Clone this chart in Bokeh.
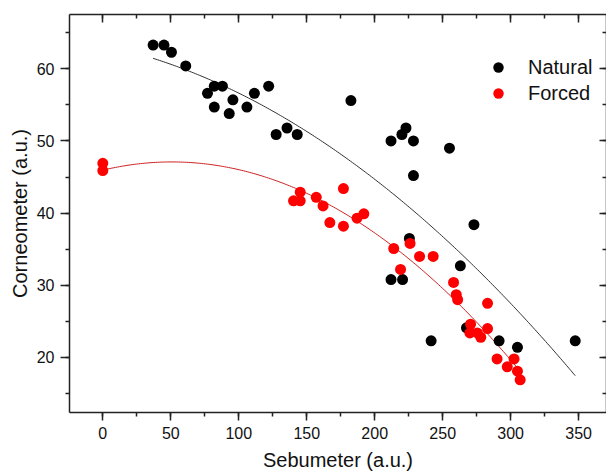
import numpy as np
from bokeh.plotting import figure
from bokeh.models import (ColumnDataSource, LinearAxis, SingleIntervalTicker,
                          Range1d, Legend, LegendItem, CustomJSTickFormatter)
from bokeh.embed import file_html
from bokeh.resources import INLINE

# ---- data ----
natural_x = [37, 45, 50.5, 61, 77, 82, 88, 95.7, 82, 93, 106, 111.5, 122,
             127.5, 135.5, 143, 182.5, 212, 220, 223, 228.5, 255, 228.5,
             273, 225.5, 263, 212, 220.5, 267.5, 241.5, 291.5, 305, 347.5]
natural_y = [63.3, 63.3, 62.3, 60.4, 56.6, 57.6, 57.6, 55.7, 54.7, 53.8, 54.7,
             56.6, 57.6, 50.9, 51.8, 50.9, 55.6, 50.0, 50.9, 51.8, 50.0, 49.0,
             45.2, 38.4, 36.5, 32.7, 30.8, 30.8, 24.1, 22.3, 22.3, 21.4, 22.3]

forced_x = [0, 0, 140.3, 145.2, 145.2, 157, 162, 167, 177, 177, 187, 192,
            214, 219, 226, 233, 243, 258, 260, 261, 283, 270.5, 270, 275.5,
            278, 283, 290, 297.5, 302.5, 305, 307]
forced_y = [46.9, 45.9, 41.7, 42.9, 41.7, 42.2, 41.0, 38.7, 43.4, 38.2, 39.3,
            39.9, 35.1, 32.2, 35.8, 34.0, 34.0, 30.4, 28.7, 28.0, 27.5, 24.6,
            23.4, 23.4, 22.8, 24.0, 19.8, 18.7, 19.8, 18.1, 16.9]

x_tick_interval = 50
y_tick_interval = 10

FONT = "Liberation Sans"

p = figure(width=606, height=474, output_backend="svg", toolbar_location=None,
           x_range=Range1d(-24.5, 370.5), y_range=Range1d(12.37, 67.53),
           min_border_left=69, min_border_top=14, min_border_right=0,
           min_border_bottom=62)
p.grid.visible = False
p.outline_line_color = None
p.background_fill_color = "white"
p.border_fill_color = "white"

xt = SingleIntervalTicker(interval=x_tick_interval, num_minor_ticks=2)
yt = SingleIntervalTicker(interval=y_tick_interval, num_minor_ticks=2)

ax_col = "#222222"

def style_axis(ax):
    ax.axis_line_color = ax_col
    ax.axis_line_width = 1.5
    ax.major_tick_line_color = ax_col
    ax.minor_tick_line_color = ax_col
    ax.major_tick_line_width = 1.5
    ax.minor_tick_line_width = 1.5
    ax.major_label_text_font = FONT
    ax.major_label_text_font_size = "16px"
    ax.major_label_text_color = "#111111"
    ax.axis_label_text_font = FONT
    ax.axis_label_text_font_size = "20px"
    ax.axis_label_text_font_style = "normal"
    ax.axis_label_text_color = "#111111"

xa = p.xaxis[0]
xa.ticker = xt
style_axis(xa)
xa.major_tick_out = 8
xa.major_tick_in = 0
xa.minor_tick_out = 4
xa.minor_tick_in = 0
xa.major_label_standoff = 6
xa.axis_label = "Sebumeter (a.u.)"
xa.axis_label_standoff = 7

ya = p.yaxis[0]
ya.ticker = yt
style_axis(ya)
ya.major_tick_out = 9
ya.major_tick_in = 0
ya.minor_tick_out = 4
ya.minor_tick_in = 0
ya.major_label_standoff = 6
ya.axis_label = "Corneometer (a.u.)"
ya.axis_label_standoff = 3

top = LinearAxis(ticker=SingleIntervalTicker(interval=x_tick_interval, num_minor_ticks=2))
style_axis(top)
top.formatter = CustomJSTickFormatter(code="return ''")
top.major_tick_in = 8
top.major_tick_out = 0
top.minor_tick_in = 4
top.minor_tick_out = 0
top.major_label_standoff = 0
p.add_layout(top, "above")

right = LinearAxis(ticker=SingleIntervalTicker(interval=y_tick_interval, num_minor_ticks=2))
style_axis(right)
right.formatter = CustomJSTickFormatter(code="return ''")
right.major_tick_in = 7
right.major_tick_out = 0
right.minor_tick_in = 4
right.minor_tick_out = 0
right.major_label_standoff = 0
p.add_layout(right, "right")

# quadratic fits computed from the data
def fit_curve(xs, ys):
    c = np.polyfit(xs, ys, 2)
    fx = np.linspace(min(xs), max(xs), 200)
    return fx, np.polyval(c, fx)

nfx, nfy = fit_curve(natural_x, natural_y)
ffx, ffy = fit_curve(forced_x, forced_y)
p.line(nfx, nfy, line_color="#333333", line_width=1)
p.line(ffx, ffy, line_color="#cc2222", line_width=1)

src_n = ColumnDataSource(dict(x=natural_x, y=natural_y))
src_f = ColumnDataSource(dict(x=forced_x, y=forced_y))
rn = p.scatter("x", "y", source=src_n, size=11, fill_color="black",
               line_color="black", line_width=0)
rf = p.scatter("x", "y", source=src_f, size=11, fill_color="#ff0000",
               line_color="#ff0000", line_width=0)

legend = Legend(items=[LegendItem(label="Natural", renderers=[rn]),
                       LegendItem(label="Forced", renderers=[rf])],
                location=(416, 306), padding=0, margin=0, spacing=0,
                glyph_width=26, glyph_height=26, label_height=26,
                label_standoff=17, border_line_color=None,
                background_fill_alpha=0,
                label_text_font=FONT, label_text_font_size="20px",
                label_text_color="#111111")
p.add_layout(legend)

open("out.html", "w").write(file_html(p, INLINE))
